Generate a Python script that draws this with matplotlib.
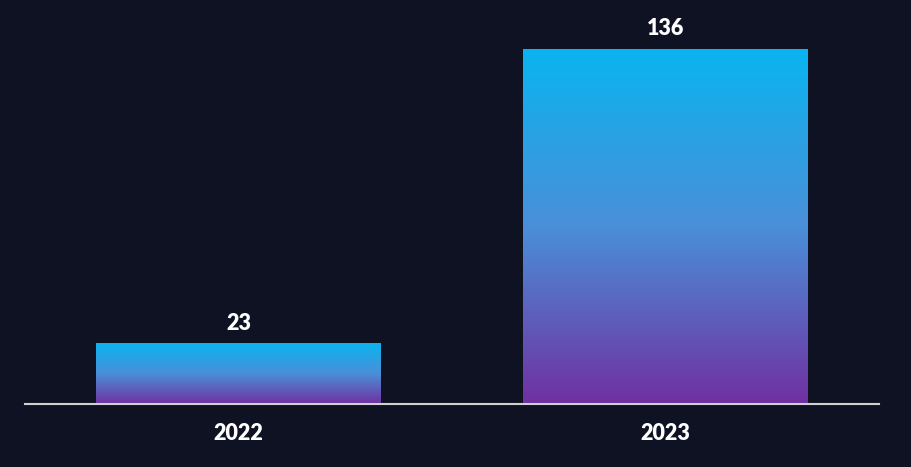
import numpy as np
import matplotlib
matplotlib.use("Agg")
import matplotlib.pyplot as plt
from matplotlib.colors import LinearSegmentedColormap

categories = ["2022", "2023"]
values = [23, 136]

BG = "#0f1222"
cmap = LinearSegmentedColormap.from_list("g", ["#7030a0", "#4a8fd8", "#0ab4f0"])

fig = plt.figure(figsize=(9.11, 4.67), dpi=100, facecolor=BG)
ax = fig.add_axes([25/911, 63/467, 854/911, 355/467])
ax.set_facecolor(BG)

width = 0.667
grad = np.linspace(0, 1, 256).reshape(-1, 1)
for i, (c, v) in enumerate(zip(categories, values)):
    ax.imshow(grad, extent=[i - width/2, i + width/2, 0, v], origin="lower",
              aspect="auto", cmap=cmap, zorder=2)
    ax.annotate(str(v), (i, v), xytext=(0, 7), textcoords="offset points",
                ha="center", va="bottom", color="white", fontsize=15.5,
                fontweight="heavy", family="Lato", annotation_clip=False)
ax.set_xlim(-0.5, 1.5)
ax.set_ylim(0, 136)

ax.set_xticks(range(len(categories)))
ax.set_xticklabels(categories, color="white", fontsize=15.5, fontweight="heavy", family="Lato")
ax.tick_params(axis="x", length=0, pad=14)
ax.set_yticks([])
for s in ["top", "right", "left"]:
    ax.spines[s].set_visible(False)
ax.spines["bottom"].set_color("#d0d0d0")
ax.spines["bottom"].set_linewidth(1.5)
ax.spines["bottom"].set_zorder(3)

fig.savefig("out.png", dpi=100, facecolor=BG)
